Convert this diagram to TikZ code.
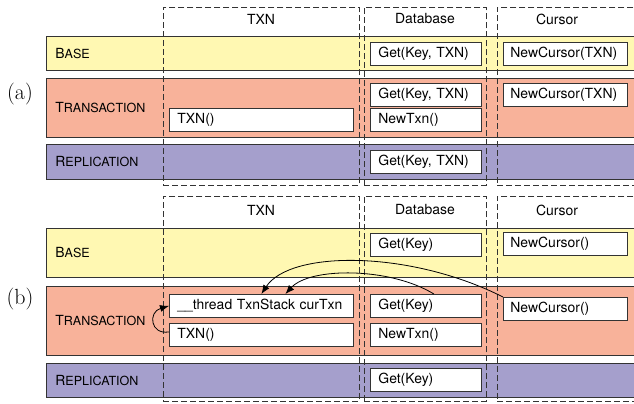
\documentclass[tikz,border=0pt]{standalone}
\usepackage{fontspec}
\setsansfont{TeX Gyre Heros}
\usepackage{tikz}
\usetikzlibrary{arrows.meta}

\definecolor{baseyellow}{HTML}{FFF8B2}
\definecolor{txnsalmon}{HTML}{F8B29A}
\definecolor{replpurple}{HTML}{A59FCC}
\definecolor{linegray}{HTML}{333333}

% fake small caps for the layer names
\newcommand{\layername}[2]{{\fontsize{14}{16}\selectfont #1}{\fontsize{12.6}{16}\selectfont #2}}

\begin{document}
\begin{tikzpicture}[x=1bp,y=-1bp]
          \tikzstyle{layer}=[draw=linegray,line width=.8pt,anchor=north west,inner xsep=9bp,inner ysep=0pt,text width=576bp,align=left,font=\sffamily]
          \tikzstyle{column}=[draw=linegray,line width=.8pt,dash pattern=on 6bp off 3bp,anchor=north west,inner sep=0pt]
          \tikzstyle{head}=[font=\sffamily\fontsize{14}{16}\selectfont]
          \tikzstyle{call}=[draw=linegray,fill=white,line width=.8pt,anchor=north west,inner xsep=8bp,inner ysep=0pt,minimum height=23bp,align=left,font=\sffamily\fontsize{14}{16}\selectfont]
          \tikzstyle{ptr}=[draw=black,line width=.8pt,-{Latex[length=9bp,width=7bp]}]
          \tikzstyle{part}=[font=\fontsize{22}{24}\selectfont]
          \useasboundingbox (0,0) rectangle (634,403);
          % (a)
          \node[layer,fill=baseyellow,minimum height=34bp] (baseA) at (46,36) {\layername{B}{ASE}};
          \node[layer,fill=txnsalmon,minimum height=59bp] (transA) at (46,78) {\layername{T}{RANSACTION}};
          \node[layer,fill=replpurple,minimum height=35bp] (replA) at (46,144) {\layername{R}{EPLICATION}};
          % (b)
          \node[layer,fill=baseyellow,minimum height=49bp] (baseB) at (46,228) {\layername{B}{ASE}};
          \node[layer,fill=txnsalmon,minimum height=69bp] (transB) at (46,286) {\layername{T}{RANSACTION}};
          \node[layer,fill=replpurple,minimum height=34bp] (replB) at (46,363) {\layername{R}{EPLICATION}};
          \node[part] (partA) at (20,94) {(a)};
          \node[part] (partB) at (20,299) {(b)};
          % dashed columns and their heads
          \foreach \p/\top/\h/\hy in {A/7/178/19,B/196/205/210}{
            \node[column,minimum width=196bp,minimum height=\h bp] (txnCol\p) at (163,\top) {};
            \node[column,minimum width=122bp,minimum height=\h bp] (dbCol\p) at (364,\top) {};
            \node[column,minimum width=150bp,minimum height=\h bp] (curCol\p) at (497,\top) {};
            \node[head] (txnHead\p) at (261,\hy) {TXN};
            \node[head] (dbHead\p) at (425,\hy) {Database};
            \node[head] (curHead\p) at (557,\hy) {Cursor};
            }
          % calls in (a)
          \node[call,text width=95bp] (getBaseA) at (370,42) {Get(Key, TXN)};
          \node[call,text width=110bp,inner xsep=7bp] (curBaseA) at (503,42) {NewCursor(TXN)};
          \node[call,text width=95bp] (getTransA) at (370,83) {Get(Key, TXN)};
          \node[call,text width=95bp] (newTxnA) at (370,108) {NewTxn()};
          \node[call,text width=110bp,inner xsep=7bp] (curTransA) at (503,83) {NewCursor(TXN)};
          \node[call,text width=168bp] (txnA) at (169,108) {TXN()};
          \node[call,text width=95bp] (getReplA) at (370,150) {Get(Key, TXN)};
          % calls in (b)
          \node[call,text width=95bp] (getBaseB) at (370,233) {Get(Key)};
          \node[call,text width=110bp,inner xsep=7bp] (curBaseB) at (503,232) {NewCursor()};
          \node[call,text width=168bp] (stackB) at (169,294) {\_\_thread TxnStack curTxn};
          \node[call,text width=168bp] (txnB) at (169,323) {TXN()};
          \node[call,text width=95bp] (getTransB) at (370,294) {Get(Key)};
          \node[call,text width=95bp] (newTxnB) at (370,323) {NewTxn()};
          \node[call,text width=110bp,inner xsep=7bp] (curTransB) at (503,297) {NewCursor()};
          \node[call,text width=95bp] (getReplB) at (370,368) {Get(Key)};
          % pointers to the thread stack
          \draw[ptr] (curTransB.north west) .. controls (410,250) and (290,250) .. (stackB.north);
          \draw[ptr] ([xshift=8bp]getTransB.north) .. controls (390,267) and (310,267) .. ([xshift=24bp]stackB.north);
          \draw[ptr] ([yshift=3bp]txnB.west) .. controls (150,335) and (148,312) .. (stackB.west);
        \end{tikzpicture}
\end{document}
